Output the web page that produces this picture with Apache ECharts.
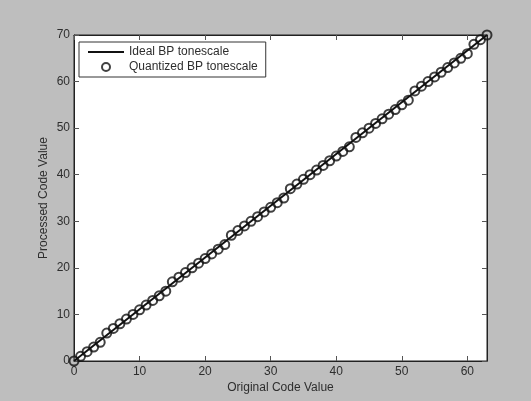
<!DOCTYPE html>
<html><head><meta charset="utf-8">
<script src="https://cdn.jsdelivr.net/npm/echarts@6/dist/echarts.min.js"></script>
<style>html,body{margin:0;padding:0;background:#bebebe;}#c{width:531px;height:401px;}</style>
</head><body><div id="c"></div>
<script>
const codes = [0,1,2,3,4,5,6,7,8,9,10,11,12,13,14,15,16,17,18,19,20,21,22,23,24,25,26,27,28,29,30,31,32,33,34,35,36,37,38,39,40,41,42,43,44,45,46,47,48,49,50,51,52,53,54,55,56,57,58,59,60,61,62,63];
const quantized = [0,1,2,3,4,6,7,8,9,10,11,12,13,14,15,17,18,19,20,21,22,23,24,25,27,28,29,30,31,32,33,34,35,37,38,39,40,41,42,43,44,45,46,48,49,50,51,52,53,54,55,56,58,59,60,61,62,63,64,65,66,68,69,70];
const idealX = [0, 63];
const idealY = [0, 70];
const xTicks = [0,10,20,30,40,50,60];

const txt = '#2e2e2e';
const font = 'Liberation Sans, Arial, sans-serif';
const chart = echarts.init(document.getElementById('c'), null, {renderer:'canvas'});
function tick(custom){
  const t = {show:true, inside:true, length:5, lineStyle:{color:'#555555', width:1}};
  if (custom) t.customValues = custom;
  return t;
}
const line = {show:true, onZero:false, lineStyle:{color:'#222', width:1}};
chart.setOption({
  backgroundColor:'#bebebe',
  animation:false,
  grid:{left:74, right:44, top:35, bottom:40, show:true, backgroundColor:'#ffffff', borderColor:'#222', borderWidth:1},
  legend:{
    left:79, top:42, orient:'vertical', itemGap:3, itemWidth:36, itemHeight:8,
    padding:[4,8,4,8], borderColor:'#333', borderWidth:1, backgroundColor:'#fff',
    textStyle:{fontSize:12, color:txt, fontFamily:font},
    data:[
      {name:'Ideal BP tonescale', itemStyle:{opacity:0}},
      {name:'Quantized BP tonescale', icon:'circle', itemStyle:{color:'#fff', borderColor:'#111', borderWidth:2}}
    ]
  },
  xAxis:[
    {type:'value', min:0, max:63, position:'bottom',
      axisLine:line, splitLine:{show:false},
      name:'Original Code Value', nameLocation:'middle', nameGap:21, nameMoveOverlap:false,
      nameTextStyle:{fontSize:12, color:txt, fontFamily:font},
      axisLabel:{fontSize:12, color:txt, fontFamily:font, margin:5, customValues: xTicks},
      axisTick: tick(xTicks)},
    {type:'value', min:0, max:63, position:'top',
      axisLine:line, splitLine:{show:false},
      axisLabel:{show:false, customValues: xTicks}, axisTick: tick(xTicks)}
  ],
  yAxis:[
    {type:'value', min:0, max:70, interval:10, position:'left',
      axisLine:line, splitLine:{show:false},
      name:'Processed Code Value', nameLocation:'middle', nameGap:24, nameMoveOverlap:false,
      nameTextStyle:{fontSize:12, color:txt, fontFamily:font},
      axisLabel:{fontSize:12, color:txt, fontFamily:font, margin:4},
      axisTick: tick()},
    {type:'value', min:0, max:70, interval:10, position:'right',
      axisLine:line, splitLine:{show:false},
      axisLabel:{show:false}, axisTick: tick()}
  ],
  series:[
    {name:'Ideal BP tonescale', type:'line', xAxisIndex:0, yAxisIndex:0,
     data: idealX.map((x,i)=>[x, idealY[i]]), symbol:'none',
     lineStyle:{color:'#111', width:2}, itemStyle:{color:'#111'}, z:2},
    {name:'Quantized BP tonescale', type:'scatter', xAxisIndex:0, yAxisIndex:0,
     data: codes.map((x,i)=>[x, quantized[i]]), symbol:'circle', symbolSize:9,
     itemStyle:{color:'rgba(255,255,255,0)', borderColor:'#111', borderWidth:2}, z:3}
  ]
});
</script></body></html>
